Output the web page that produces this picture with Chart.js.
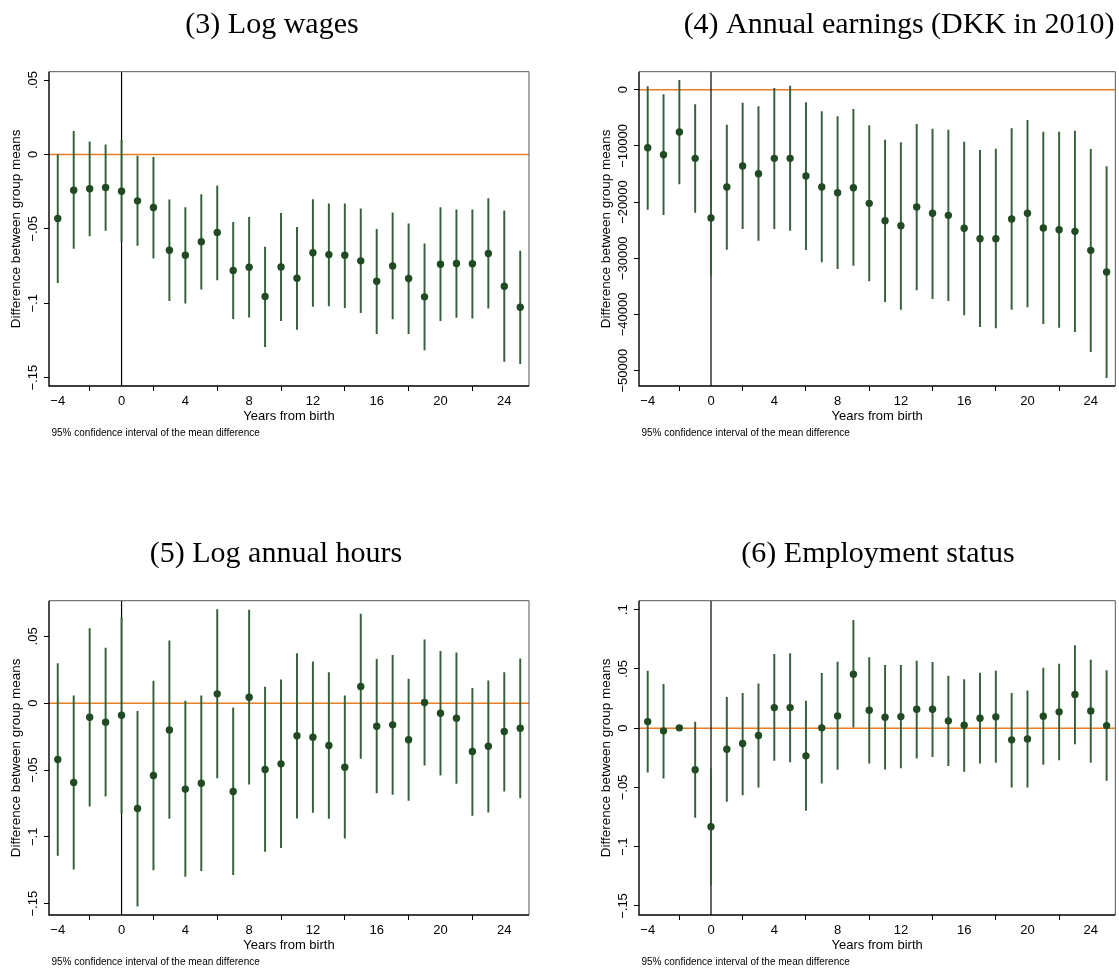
<!DOCTYPE html>
<html><head><meta charset="utf-8">
<script src="https://cdn.jsdelivr.net/npm/chart.js@4.4.0/dist/chart.umd.min.js"></script>
<style>
html,body{margin:0;padding:0;background:#fff;width:1119px;height:971px;overflow:hidden;position:relative}
canvas{position:absolute}
</style></head><body>
<canvas id="c1"></canvas><canvas id="c2"></canvas><canvas id="c3"></canvas><canvas id="c4"></canvas>
<script>
const years = [-4,-3,-2,-1,0,1,2,3,4,5,6,7,8,9,10,11,12,13,14,15,16,17,18,19,20,21,22,23,24,25];
const xTicks = [-4,0,4,8,12,16,20,24];

// (3) Log wages
const wagesMean = [-0.0430,-0.0240,-0.0231,-0.0222,-0.0247,-0.0312,-0.0357,-0.0644,-0.0677,-0.0587,-0.0525,-0.0780,-0.0758,-0.0955,-0.0756,-0.0832,-0.0661,-0.0673,-0.0677,-0.0715,-0.0852,-0.0749,-0.0834,-0.0957,-0.0738,-0.0733,-0.0735,-0.0666,-0.0886,-0.1027];
const wagesHi = [0.0000,0.0155,0.0085,0.0065,0.0094,-0.0011,-0.0020,-0.0305,-0.0357,-0.0269,-0.0211,-0.0457,-0.0422,-0.0623,-0.0395,-0.0489,-0.0303,-0.0332,-0.0332,-0.0365,-0.0504,-0.0392,-0.0466,-0.0601,-0.0357,-0.0372,-0.0372,-0.0296,-0.0379,-0.0650];
const wagesLo = [-0.0861,-0.0632,-0.0547,-0.0511,-0.0585,-0.0612,-0.0697,-0.0982,-0.1000,-0.0906,-0.0843,-0.1103,-0.1094,-0.1291,-0.1117,-0.1175,-0.1022,-0.1018,-0.1029,-0.1063,-0.1204,-0.1105,-0.1204,-0.1314,-0.1117,-0.1096,-0.1101,-0.1033,-0.1390,-0.1406];
const wagesTicks = [0.05,0,-0.05,-0.1,-0.15];
const wagesTickLabels = ['.05','0','\u2212.05','\u2212.1','\u2212.15'];

// (4) Annual earnings
const earnMean = [-10320,-11570,-7530,-12220,-22830,-17320,-13580,-14950,-12220,-12220,-15360,-17320,-18330,-17440,-20230,-23310,-24200,-20880,-22000,-22360,-24670,-26510,-26510,-23010,-22000,-24610,-24910,-25210,-28590,-32440];
const earnHi = [530,-890,1660,-2670,-12510,-6290,-2370,-3020,240,650,-2310,-3910,-4800,-3500,-6410,-8960,-9430,-6170,-7000,-7180,-9310,-10790,-10560,-6940,-5460,-7530,-7530,-7350,-10620,-13700];
const earnLo = [-21290,-22240,-16790,-21830,-33040,-28410,-24730,-26810,-24730,-25030,-28470,-30660,-31850,-31260,-34050,-37720,-39090,-35650,-37190,-37540,-40090,-42170,-42410,-39090,-38670,-41640,-42290,-43060,-46620,-51250];
const earnTicks = [0,-10000,-20000,-30000,-40000,-50000];
const earnTickLabels = ['0','\u221210000','\u221220000','\u221230000','\u221240000','\u221250000'];

// (5) Log annual hours
const hoursMean = [-0.0421,-0.0594,-0.0105,-0.0142,-0.0090,-0.0788,-0.0541,-0.0200,-0.0643,-0.0599,0.0070,-0.0661,0.0045,-0.0496,-0.0454,-0.0244,-0.0254,-0.0317,-0.0479,0.0125,-0.0172,-0.0162,-0.0274,0.0005,-0.0075,-0.0112,-0.0362,-0.0322,-0.0212,-0.0187];
const hoursHi = [0.0297,0.0055,0.0559,0.0412,0.0643,-0.0060,0.0165,0.0466,0.0015,0.0055,0.0701,-0.0035,0.0696,0.0120,0.0175,0.0372,0.0309,0.0229,0.0055,0.0666,0.0329,0.0359,0.0180,0.0474,0.0389,0.0377,0.0112,0.0167,0.0229,0.0332];
const hoursLo = [-0.1140,-0.1242,-0.0771,-0.0696,-0.0823,-0.1519,-0.1247,-0.0863,-0.1297,-0.1254,-0.0559,-0.1284,-0.0606,-0.1110,-0.1082,-0.0860,-0.0818,-0.0863,-0.1010,-0.0414,-0.0671,-0.0683,-0.0728,-0.0464,-0.0539,-0.0601,-0.0840,-0.0816,-0.0658,-0.0708];
const hoursTicks = [0.05,0,-0.05,-0.1,-0.15];
const hoursTickLabels = ['.05','0','\u2212.05','\u2212.1','\u2212.15'];

// (6) Employment status
const empMean = [0.0056,-0.0022,0.0003,-0.0351,-0.0831,-0.0177,-0.0129,-0.0062,0.0174,0.0174,-0.0233,0.0003,0.0104,0.0455,0.0152,0.0093,0.0098,0.0160,0.0160,0.0062,0.0025,0.0084,0.0096,-0.0098,-0.0090,0.0101,0.0138,0.0284,0.0146,0.0022];
const empHi = [0.0483,0.0371,0.0008,0.0051,-0.0343,0.0261,0.0295,0.0374,0.0624,0.0629,0.0228,0.0463,0.0559,0.0910,0.0596,0.0531,0.0531,0.0567,0.0556,0.0441,0.0410,0.0466,0.0483,0.0295,0.0315,0.0508,0.0542,0.0697,0.0576,0.0486];
const empLo = [-0.0371,-0.0421,-0.0002,-0.0753,-0.1323,-0.0618,-0.0562,-0.0497,-0.0272,-0.0284,-0.0694,-0.0463,-0.0348,0.0008,-0.0295,-0.0346,-0.0334,-0.0253,-0.0239,-0.0317,-0.0365,-0.0295,-0.0289,-0.0497,-0.0497,-0.0306,-0.0267,-0.0132,-0.0289,-0.0441];
const empTicks = [0.1,0.05,0,-0.05,-0.1,-0.15];
const empTickLabels = ['.1','.05','0','\u2212.05','\u2212.1','\u2212.15'];

const titles = ['(3) Log wages','(4) Annual earnings (DKK in 2010)','(5) Log annual hours','(6) Employment status'];
const yTitle = 'Difference between group means';
const xTitle = 'Years from birth';
const note = '95% confidence interval of the mean difference';

const POINT = '#1f4a22', BAR = '#36603b', ORANGE = '#e97d22';
const SANS = '"Liberation Sans", Arial, sans-serif';

function makePanel(id, p) {
  const cv = document.getElementById(id);
  cv.width = p.w; cv.height = p.h;
  cv.style.left = p.left + 'px'; cv.style.top = p.top + 'px';
  cv.style.width = p.w + 'px'; cv.style.height = p.h + 'px';
  const deco = {
    id: 'deco' + id,
    beforeDatasetsDraw(chart) {
      const {ctx, chartArea: a, scales: {x, y}} = chart;
      ctx.save();
      ctx.beginPath(); ctx.rect(a.left, a.top, a.right - a.left, a.bottom - a.top); ctx.clip();
      const y0 = y.getPixelForValue(0);
      ctx.strokeStyle = ORANGE; ctx.lineWidth = 1.4;
      ctx.beginPath(); ctx.moveTo(a.left, y0); ctx.lineTo(a.right, y0); ctx.stroke();
      const x0 = x.getPixelForValue(0);
      ctx.strokeStyle = '#000'; ctx.lineWidth = 1.2;
      ctx.beginPath(); ctx.moveTo(x0, a.top); ctx.lineTo(x0, a.bottom); ctx.stroke();
      ctx.restore();
    },
    afterDraw(chart) {
      const {ctx, chartArea: a, scales: {y}} = chart;
      ctx.save();
      ctx.strokeStyle = '#555'; ctx.lineWidth = 1;
      ctx.beginPath(); ctx.moveTo(a.left, a.top); ctx.lineTo(a.right, a.top); ctx.lineTo(a.right, a.bottom); ctx.stroke();
      ctx.strokeStyle = '#000'; ctx.lineWidth = 1.4;
      ctx.beginPath(); ctx.moveTo(a.left, a.top); ctx.lineTo(a.left, a.bottom); ctx.lineTo(a.right, a.bottom); ctx.stroke();
      ctx.fillStyle = '#000';
      ctx.font = '13px ' + SANS; ctx.textAlign = 'center'; ctx.textBaseline = 'alphabetic';
      p.yTicks.forEach((v, i) => {
        const py = y.getPixelForValue(v);
        ctx.save(); ctx.translate(a.left - 12.3, py); ctx.rotate(-Math.PI / 2);
        ctx.fillText(p.yLabels[i], 0, 0); ctx.restore();
      });
      ctx.save(); ctx.translate(a.left - 29, (a.top + a.bottom) / 2); ctx.rotate(-Math.PI / 2);
      ctx.font = '13.5px ' + SANS; ctx.fillText(yTitle, 0, 0); ctx.restore();
      ctx.font = '13px ' + SANS; ctx.textAlign = 'center';
      ctx.fillText(xTitle, (a.left + a.right) / 2, a.bottom + 34);
      ctx.font = '10px ' + SANS; ctx.textAlign = 'left';
      ctx.fillText(note, a.left + 2.5, a.bottom + 50);
      ctx.font = '30px "Liberation Serif", "Times New Roman", serif'; ctx.textAlign = 'center';
      ctx.fillText(p.title, p.titleX - p.left, a.top - 38.5);
      ctx.restore();
    }
  };
  return new Chart(cv, {
    type: 'scatter',
    data: {
      datasets: [
        {type: 'scatter', data: years.map((v, i) => ({x: v, y: p.mean[i]})), backgroundColor: POINT,
         borderWidth: 0, pointRadius: 3.7, pointHoverRadius: 3.7, order: 0},
        {type: 'bar', data: years.map((v, i) => ({x: v, y: [p.lo[i], p.hi[i]]})), backgroundColor: BAR,
         borderWidth: 0, barThickness: 1.3, grouped: false, order: 1}
      ]
    },
    options: {
      responsive: false, animation: false, devicePixelRatio: 1,
      layout: {padding: {left: 0, top: p.plotTop - p.top, right: p.left + p.w - p.plotRight, bottom: 0}},
      plugins: {legend: {display: false}, tooltip: {enabled: false}},
      scales: {
        x: {type: 'linear', min: -4.55, max: 25.55, offset: false,
            afterBuildTicks: s => { s.ticks = xTicks.map(v => ({value: v})); },
            afterFit: s => { s.height = p.top + p.h - p.plotBottom; },
            grid: {display: true, drawOnChartArea: false, drawTicks: true, tickLength: 5, color: '#000', lineWidth: 1},
            border: {display: false},
            ticks: {color: '#000', font: {size: 13, family: SANS}, padding: 3, maxRotation: 0, autoSkip: false,
                    callback: v => String(v).replace('-', '\u2212')}},
        y: {type: 'linear', min: p.yMin, max: p.yMax,
            afterBuildTicks: s => { s.ticks = p.yTicks.map(v => ({value: v})); },
            afterFit: s => { s.width = p.plotLeft - p.left; },
            grid: {display: true, drawOnChartArea: false, drawTicks: true, tickLength: 5, color: '#000', lineWidth: 1},
            border: {display: false},
            ticks: {display: false}}
      }
    },
    plugins: [deco]
  });
}

makePanel('c1', {left: 0, top: 0, w: 560, h: 470, plotLeft: 49, plotRight: 529, plotTop: 71.7, plotBottom: 386,
  title: titles[0], titleX: 272, yMin: -0.1556, yMax: 0.0556, yTicks: wagesTicks, yLabels: wagesTickLabels,
  mean: wagesMean, lo: wagesLo, hi: wagesHi});
makePanel('c2', {left: 560, top: 0, w: 559, h: 470, plotLeft: 639, plotRight: 1118, plotTop: 71.7, plotBottom: 386,
  title: titles[1], titleX: 899, yMin: -52730, yMax: 3200, yTicks: earnTicks, yLabels: earnTickLabels,
  mean: earnMean, lo: earnLo, hi: earnHi});
makePanel('c3', {left: 0, top: 529, w: 560, h: 442, plotLeft: 49, plotRight: 529, plotTop: 600.7, plotBottom: 915,
  title: titles[2], titleX: 276, yMin: -0.1585, yMax: 0.0767, yTicks: hoursTicks, yLabels: hoursTickLabels,
  mean: hoursMean, lo: hoursLo, hi: hoursHi});
makePanel('c4', {left: 560, top: 529, w: 559, h: 442, plotLeft: 639, plotRight: 1118, plotTop: 600.7, plotBottom: 915,
  title: titles[3], titleX: 878, yMin: -0.1576, yMax: 0.1076, yTicks: empTicks, yLabels: empTickLabels,
  mean: empMean, lo: empLo, hi: empHi});
</script>
</body></html>
